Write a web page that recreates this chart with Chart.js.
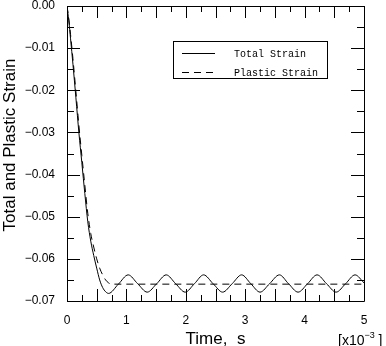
<!DOCTYPE html>
<html>
<head>
<meta charset="utf-8">
<title>Total and Plastic Strain</title>
<script src="https://cdn.jsdelivr.net/npm/chart.js@4.4.1/dist/chart.umd.min.js"></script>
<style>
  html, body { margin: 0; padding: 0; background: #fff; }
  canvas { display: block; }
</style>
</head>
<body>
<canvas id="myChart" width="386" height="346"></canvas>
<script>
// tiempo en unidades de 1e-3 s
const tiempoTotal = [0, 0.03, 0.06, 0.1, 0.15, 0.2, 0.25, 0.3, 0.35, 0.4, 0.45, 0.5, 0.55, 0.6, 0.65, 0.7,
    0.865, 1.03, 1.19, 1.35, 1.51, 1.67, 1.83, 1.99, 2.145, 2.3, 2.46, 2.62, 2.78, 2.94, 3.095, 3.25,
    3.41, 3.575, 3.73, 3.89, 4.05, 4.21, 4.37, 4.53, 4.69, 4.85, 5.0];
const deformTotal = [0, -0.0035, -0.0078, -0.0138, -0.0218, -0.0300, -0.0372, -0.0445, -0.0512, -0.0558, -0.0592, -0.0622, -0.0650, -0.0668, -0.0678, -0.0682,
    -0.0660, -0.0638, -0.0659, -0.0679, -0.0659, -0.0638, -0.0659, -0.0679, -0.0659, -0.0638, -0.0659, -0.0679, -0.0659, -0.0638, -0.0659, -0.0679,
    -0.0659, -0.0638, -0.0659, -0.0679, -0.0659, -0.0638, -0.0659, -0.0679, -0.0659, -0.0638, -0.0657];

const tiempoPlastica = [0, 0.03, 0.06, 0.1, 0.15, 0.2, 0.25, 0.3, 0.35, 0.4, 0.45, 0.5, 0.55, 0.6, 0.65, 0.7, 0.75, 0.8, 5.0];
const deformPlastica = [0, -0.003, -0.0068, -0.0125, -0.0203, -0.0283, -0.0355, -0.0425, -0.0492, -0.0540, -0.0572, -0.0600, -0.0622, -0.0638, -0.0650, -0.0657, -0.0660, -0.0660, -0.0660];

const nombresSeries = ['Total Strain', 'Plastic Strain'];
const etiquetasX = ['0', '1', '2', '3', '4', '5'];
const etiquetasY = ['0.00', '\u22120.01', '\u22120.02', '\u22120.03', '\u22120.04', '\u22120.05', '\u22120.06', '\u22120.07'];
const tituloX = 'Time,  s';
const tituloY = 'Total and Plastic Strain';

const aPuntos = (xs, ys) => xs.map((t, i) => ({ x: t, y: ys[i] }));

// marcas hacia adentro en los cuatro lados + marco
const marcasEjes = {
    id: 'marcasEjes',
    afterDraw(chart) {
        const { ctx, chartArea: a, scales: { x, y } } = chart;
        ctx.save();
        ctx.strokeStyle = '#000';
        ctx.lineWidth = 1;
        ctx.beginPath();
        ctx.rect(Math.round(a.left) + 0.5, Math.round(a.top) + 0.5, Math.round(a.right - a.left), Math.round(a.bottom - a.top));
        for (let i = 0; i <= 20; i++) {
            const px = Math.round(x.getPixelForValue(i * 0.25)) + 0.5;
            const largo = i % 2 === 0 ? 12 : 6;
            ctx.moveTo(px, a.bottom); ctx.lineTo(px, a.bottom - largo);
            ctx.moveTo(px, a.top); ctx.lineTo(px, a.top + largo);
        }
        for (let i = 0; i <= 14; i++) {
            const py = Math.round(y.getPixelForValue(-i * 0.005)) + 0.5;
            const largo = i % 2 === 0 ? 13 : 7;
            ctx.moveTo(a.left, py); ctx.lineTo(a.left + largo, py);
            ctx.moveTo(a.right, py); ctx.lineTo(a.right - largo, py);
        }
        ctx.stroke();

        ctx.fillStyle = '#000';
        // titulo del eje y (un poco arriba del centro, como el original)
        ctx.save();
        ctx.translate(10, 145);
        ctx.rotate(-Math.PI / 2);
        ctx.textAlign = 'center';
        ctx.textBaseline = 'middle';
        ctx.font = '17px "Liberation Sans", Arial, sans-serif';
        ctx.fillText(tituloY, 0, 0);
        ctx.restore();

        // multiplicador del eje x
        ctx.textBaseline = 'alphabetic';
        ctx.textAlign = 'left';
        ctx.font = '14px "Liberation Sans", Arial, sans-serif';
        ctx.fillText('[x10', 338, 345);
        let ancho = ctx.measureText('[x10').width;
        ctx.font = '9px "Liberation Sans", Arial, sans-serif';
        ctx.fillText('\u22123', 338 + ancho, 338);
        ancho += ctx.measureText('\u22123').width;
        ctx.font = '14px "Liberation Sans", Arial, sans-serif';
        ctx.fillText(' ]', 338 + ancho, 345);
        ctx.restore();
    }
};

// leyenda en caja dentro del grafico
const leyendaCaja = {
    id: 'leyendaCaja',
    afterDraw(chart) {
        const { ctx } = chart;
        ctx.save();
        ctx.strokeStyle = '#000';
        ctx.lineWidth = 1;
        ctx.strokeRect(173.5, 41.5, 154, 37);
        ctx.font = '10px "Liberation Mono", "Courier New", monospace';
        ctx.fillStyle = '#000';
        ctx.textBaseline = 'middle';
        chart.data.datasets.forEach((ds, i) => {
            const yy = 53.5 + i * 19;
            ctx.setLineDash(ds.borderDash || []);
            ctx.beginPath();
            ctx.moveTo(182, yy);
            ctx.lineTo(215, yy);
            ctx.stroke();
            ctx.setLineDash([]);
            ctx.fillText(ds.label, 234, yy + 0.5);
        });
        ctx.restore();
    }
};

const ctx = document.getElementById('myChart').getContext('2d');
const myChart = new Chart(ctx, {
    type: 'line',
    data: {
        datasets: [{
            label: nombresSeries[0],
            data: aPuntos(tiempoTotal, deformTotal),
            borderColor: '#000',
            borderWidth: 1,
            pointRadius: 0,
            cubicInterpolationMode: 'monotone',
            fill: false
        }, {
            label: nombresSeries[1],
            data: aPuntos(tiempoPlastica, deformPlastica),
            borderColor: '#000',
            borderWidth: 1,
            borderDash: [7, 5],
            pointRadius: 0,
            cubicInterpolationMode: 'monotone',
            fill: false
        }]
    },
    options: {
        responsive: false,
        animation: false,
        events: [],
        layout: { padding: { top: 6, right: 22, left: 0, bottom: 0 } },
        plugins: {
            legend: { display: false },
            tooltip: { enabled: false }
        },
        scales: {
            x: {
                type: 'linear',
                min: 0,
                max: 5,
                afterFit: (s) => { s.height = 45; },
                grid: { display: false, drawTicks: false },
                border: { display: false },
                ticks: {
                    stepSize: 1,
                    padding: 12,
                    color: '#000',
                    font: { family: '"Liberation Sans", Arial, sans-serif', size: 12 },
                    callback: (v) => etiquetasX[Math.round(v)]
                },
                title: {
                    display: true,
                    text: tituloX,
                    color: '#000',
                    padding: 0,
                    font: { family: '"Liberation Sans", Arial, sans-serif', size: 17, lineHeight: 0.8 }
                }
            },
            y: {
                min: -0.07,
                max: 0,
                afterFit: (s) => { s.width = 67; s.paddingTop = 0; s.paddingBottom = 0; },
                grid: { display: false, drawTicks: false },
                border: { display: false },
                ticks: {
                    stepSize: 0.01,
                    padding: 12,
                    color: '#000',
                    font: { family: '"Liberation Sans", Arial, sans-serif', size: 12 },
                    callback: (v) => etiquetasY[Math.round(-v / 0.01)]
                },
                title: { display: false, text: tituloY }
            }
        }
    },
    plugins: [marcasEjes, leyendaCaja]
});
</script>
</body>
</html>
